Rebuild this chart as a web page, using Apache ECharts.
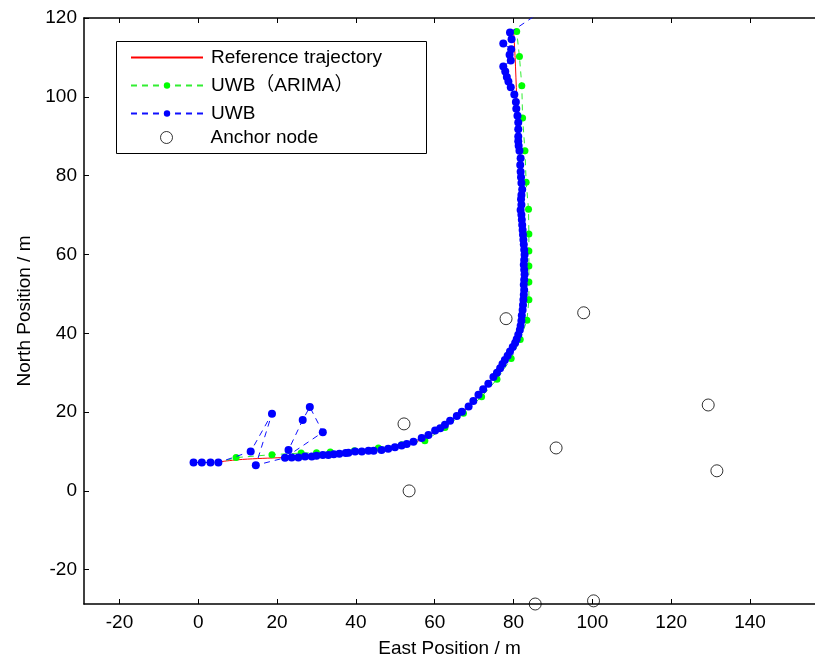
<!DOCTYPE html>
<html>
<head>
<meta charset="utf-8">
<script src="https://cdn.jsdelivr.net/npm/echarts@6/dist/echarts.min.js"></script>
<style>html,body{margin:0;padding:0;background:#fff}#c{width:815px;height:664px}</style>
</head>
<body>
<div id="c"></div>
<script>
// ---- data (East m, North m) ----
var xTicks = [-20, 0, 20, 40, 60, 80, 100, 120, 140];
var yTicks = [-20, 0, 20, 40, 60, 80, 100, 120];

var refE = [5.5, 10, 15, 20, 25, 30, 35, 40, 45, 50, 55, 60, 63.9, 66.9, 69.8, 72.3, 74.9, 77.8, 80.4, 81.8, 82.4, 82.7, 82.7, 82.4, 81.9, 81.3, 80.8, 80.4, 80.0];
var refN = [7.4, 7.9, 8.2, 8.4, 8.6, 8.9, 9.4, 9.9, 10.3, 11.0, 12.3, 15.0, 17.6, 19.9, 22.6, 25.6, 28.8, 33.1, 37.4, 41.8, 46.5, 52, 60, 70, 80, 90, 100, 110, 117];

var arimaE = [-1.2, 0.9, 3.1, 5.1, 9.6, 18.7, 26.1, 30.0, 33.5, 39.6, 45.7, 51.6, 57.5, 62.6, 67.3, 71.9, 75.8, 79.4, 81.7, 83.4, 83.9, 83.9, 83.9, 83.9, 83.9, 83.8, 83.2, 82.9, 82.3, 82.1, 81.5, 80.8];
var arimaN = [7.2, 7.2, 7.2, 7.2, 8.45, 9.2, 9.6, 9.7, 9.9, 10.2, 10.9, 11.7, 12.7, 16.1, 19.7, 23.9, 28.3, 33.6, 38.4, 43.3, 48.5, 53.0, 57.1, 60.9, 65.2, 71.5, 78.3, 86.3, 94.6, 102.8, 110.2, 116.6];

var uwbE = [-1.2, 0.9, 3.1, 5.1, 13.3, 18.7, 14.6, 22.0, 31.6, 28.3, 26.5, 22.9, 23.7, 25.4, 27.1, 28.8, 30.0, 31.6, 33.0, 34.4, 35.8, 37.4, 38.1, 39.8, 41.5, 43.2, 44.5, 46.5, 48.2, 49.9, 51.6, 52.9, 54.6, 56.7, 58.4, 60.1, 61.4, 62.6, 63.9, 65.6, 66.9, 68.6, 69.8, 71.1, 72.3, 73.6, 74.9, 75.8, 76.6, 77.2, 77.8, 78.5, 79.1, 79.8, 80.4, 80.8, 81.2, 81.6, 81.8, 82.0, 82.1, 82.3, 82.4, 82.5, 82.6, 82.7, 82.6, 82.7, 82.8, 82.7, 82.6, 82.7, 82.8, 82.7, 82.6, 82.5, 82.4, 82.3, 82.2, 82.1, 82.0, 81.8, 82.0, 81.9, 82.0, 82.2, 82.0, 81.9, 81.8, 81.7, 81.8, 81.5, 81.3, 81.2, 81.2, 81.2, 81.2, 81.0, 80.7, 80.6, 80.2, 79.3, 78.7, 78.3, 77.9, 77.4, 79.3, 79.0, 79.4, 77.4, 79.5, 79.1, 86.5];
var uwbN = [7.2, 7.2, 7.2, 7.2, 10.0, 19.6, 6.5, 8.4, 14.9, 21.3, 18.0, 10.4, 8.5, 8.5, 8.7, 8.7, 8.9, 9.1, 9.1, 9.3, 9.4, 9.6, 9.7, 10.0, 10.0, 10.2, 10.2, 10.4, 10.7, 11.1, 11.5, 11.9, 12.5, 13.4, 14.2, 15.3, 15.9, 16.8, 17.8, 19.0, 20.1, 21.4, 22.8, 24.4, 25.8, 27.2, 28.9, 30.0, 31.1, 32.2, 33.2, 34.3, 35.4, 36.5, 37.5, 38.5, 39.6, 40.8, 41.9, 43.2, 44.5, 45.9, 47.2, 48.5, 49.8, 51.0, 52.3, 53.6, 54.9, 56.1, 57.4, 58.6, 59.9, 61.2, 62.5, 63.7, 65.0, 66.2, 67.5, 68.8, 70.1, 71.3, 72.6, 74.0, 75.1, 76.5, 78.1, 79.6, 81.0, 82.7, 84.4, 86.3, 87.6, 88.7, 89.9, 91.8, 93.5, 95.2, 97.0, 98.7, 100.6, 102.4, 103.9, 105.0, 106.4, 107.7, 109.2, 110.7, 112.1, 113.5, 114.6, 116.3, 121.3];

var anchorE = [52.2, 53.5, 78.1, 97.8, 90.8, 129.4, 131.6, 85.5, 100.3];
var anchorN = [17.0, 0.0, 43.7, 45.2, 10.9, 21.8, 5.1, -28.7, -27.9];

function pairs(a, b) { return a.map(function (v, i) { return [v, b[i]]; }); }

var FONT = '"Liberation Sans", Arial, "Noto Sans CJK SC", sans-serif';
var chart = echarts.init(document.getElementById('c'), null, { renderer: 'canvas' });

var axisCommon = {
  type: 'value',
  axisLine: { show: true, onZero: false, lineStyle: { color: '#000', width: 1.5 } },
  axisTick: { show: true, inside: true, length: 5, lineStyle: { color: '#000', width: 1 } },
  splitLine: { show: false },
  nameTextStyle: { fontFamily: FONT, fontSize: 19, color: '#000' }
};

var legendText = { fontFamily: FONT, fontSize: 19, color: '#000', lineHeight: 18 };

var option = {
  backgroundColor: '#fff',
  animation: false,
  grid: { left: 84, top: 18, right: 0, bottom: 60, containLabel: false },
  xAxis: [
    Object.assign({}, axisCommon, {
      position: 'bottom', min: -29, max: 156.5,
      name: 'East Position / m', nameLocation: 'middle', nameGap: 35,
      axisTick: Object.assign({}, axisCommon.axisTick, { customValues: xTicks }),
      axisLabel: { customValues: xTicks, fontFamily: FONT, fontSize: 19, color: '#000', margin: 9 }
    }),
    Object.assign({}, axisCommon, {
      position: 'top', min: -29, max: 156.5,
      axisTick: Object.assign({}, axisCommon.axisTick, { customValues: xTicks }),
      axisLabel: { show: false }
    })
  ],
  yAxis: [
    Object.assign({}, axisCommon, {
      position: 'left', min: -28.7, max: 120,
      name: 'North Position / m', nameLocation: 'middle', nameGap: 50, nameRotate: 90,
      axisTick: Object.assign({}, axisCommon.axisTick, { customValues: yTicks }),
      axisLabel: { customValues: yTicks, fontFamily: FONT, fontSize: 19, color: '#000', margin: 7 }
    })
  ],
  graphic: [{
    type: 'rect', z: 50,
    shape: { x: 116.5, y: 41.5, width: 310, height: 112 },
    style: { fill: '#fff', stroke: '#000', lineWidth: 1 }
  }],
  legend: [
    {
      z: 60, left: 130, top: 48, padding: 0, orient: 'vertical', itemWidth: 72, itemHeight: 8, itemGap: 9,
      data: [
        { name: 'Reference trajectory', itemStyle: { opacity: 0 } },
        'UWB（ARIMA）', 'UWB'
      ],
      textStyle: Object.assign({ padding: [0, 0, 0, 3] }, legendText),
      selectedMode: false
    },
    {
      z: 60, left: 160, top: 128, padding: 0, orient: 'vertical', itemWidth: 12, itemHeight: 12,
      data: [{ name: 'Anchor node', itemStyle: { borderWidth: 1, borderColor: '#000', color: '#fff' } }],
      textStyle: Object.assign({ padding: [0, 0, 0, 33] }, legendText),
      selectedMode: false
    }
  ],
  series: [
    {
      name: 'Reference trajectory', type: 'line', xAxisIndex: 0, yAxisIndex: 0,
      data: pairs(refE, refN), symbol: 'none', smooth: 0.3,
      lineStyle: { color: '#ff0000', width: 1 }, itemStyle: { color: '#ff0000' }, z: 2
    },
    {
      name: 'UWB（ARIMA）', type: 'line', xAxisIndex: 0, yAxisIndex: 0,
      data: pairs(arimaE, arimaN), symbol: 'circle', symbolSize: 7, showSymbol: true,
      lineStyle: { color: '#33ee33', width: 1, type: [6, 5] },
      itemStyle: { color: '#00ff00', borderWidth: 0 }, z: 3
    },
    {
      name: 'UWB', type: 'line', xAxisIndex: 0, yAxisIndex: 0,
      data: pairs(uwbE, uwbN), symbol: 'circle', symbolSize: 8, showSymbol: true,
      lineStyle: { color: '#1010ff', width: 1, type: [6, 5] },
      itemStyle: { color: '#0000ff', borderWidth: 0 }, z: 4
    },
    {
      name: 'Anchor node', type: 'scatter', xAxisIndex: 0, yAxisIndex: 0,
      data: pairs(anchorE, anchorN), symbol: 'circle', symbolSize: 12, clip: false,
      itemStyle: { color: 'rgba(255,255,255,0)', borderColor: '#000', borderWidth: 1 }, z: 5
    }
  ]
};
chart.setOption(option);
</script>
</body>
</html>
